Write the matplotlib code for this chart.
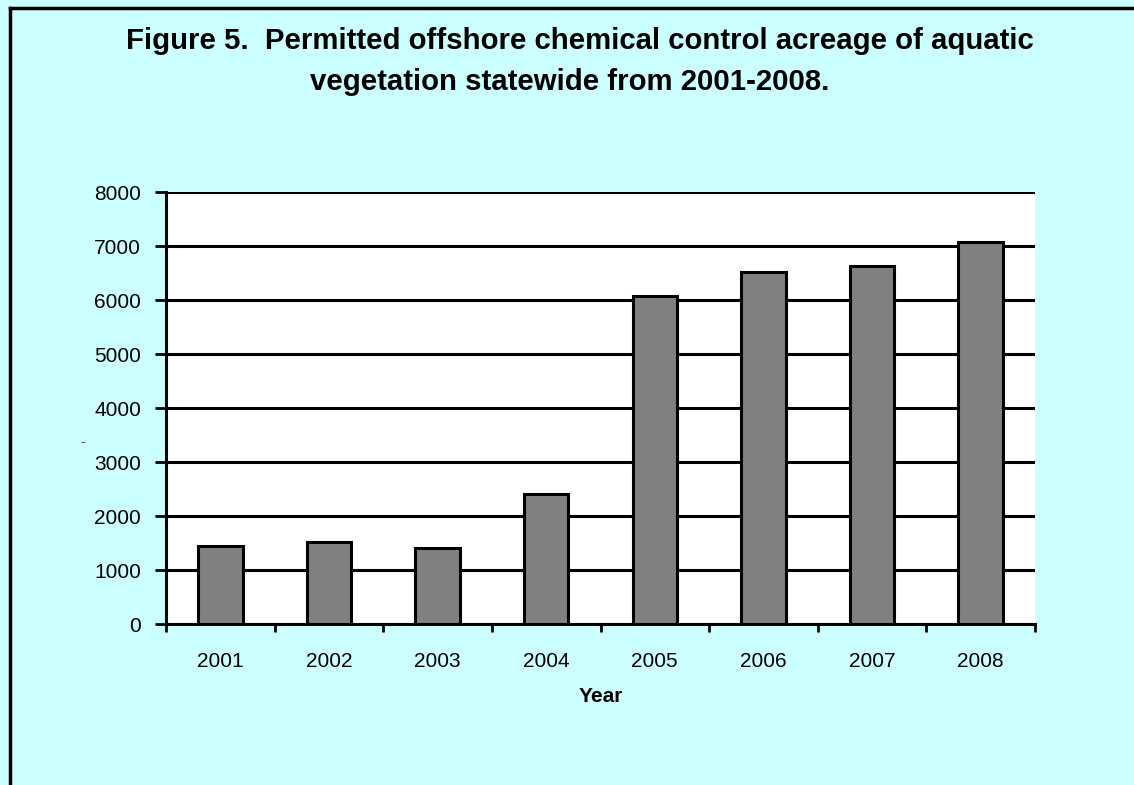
import numpy as np
import matplotlib
matplotlib.use("Agg")
import matplotlib.pyplot as plt
from matplotlib.lines import Line2D

plt.rcParams['font.family'] = ['Liberation Sans', 'DejaVu Sans']

years = ['2001', '2002', '2003', '2004', '2005', '2006', '2007', '2008']
acreage = [1450, 1513, 1407, 2401, 6074, 6518, 6624, 7068]
yticks = [0, 1000, 2000, 3000, 4000, 5000, 6000, 7000, 8000]

W, H = 1134, 785
fig = plt.figure(figsize=(W / 100, H / 100), dpi=100)
fig.patch.set_facecolor('#CCFFFF')

ax = fig.add_axes([166 / W, 1 - 624 / H, (1035 - 166) / W, (624 - 192) / H])
ax.set_facecolor('white')

x = np.arange(len(years))
ax.set_axisbelow(True)
ax.yaxis.grid(True, color='black', linewidth=2.2)
ax.bar(x, acreage, width=0.41, color='#808080', edgecolor='black', linewidth=2.2, zorder=3)

ax.set_xlim(-0.5, len(years) - 0.5)
ax.set_ylim(0, 8000)
ax.set_yticks(yticks)
ax.set_yticklabels([str(v) for v in yticks], fontsize=15)

ax.set_xticks(np.arange(-0.5, len(years), 1.0))
ax.set_xticklabels([])
ax.set_xticks(x, minor=True)
ax.set_xticklabels(years, minor=True, fontsize=15)
ax.tick_params(axis='x', which='major', direction='out', length=6, width=2, color='black')
ax.tick_params(axis='x', which='minor', length=0, pad=20)
ax.tick_params(axis='y', direction='out', length=8, width=2, pad=10, color='black')

for s in ['top', 'right']:
    ax.spines[s].set_visible(False)
for s in ['left', 'bottom']:
    ax.spines[s].set_linewidth(2.2)
    ax.spines[s].set_color('black')

ax.set_xlabel('Year', fontsize=15, fontweight='bold', labelpad=12)

fig.text(580 / W, 1 - 41 / H, 'Figure 5.  Permitted offshore chemical control acreage of aquatic',
         ha='center', va='center', fontsize=21.2, fontweight='bold')
fig.text(570 / W, 1 - 82 / H, 'vegetation statewide from 2001-2008.',
         ha='center', va='center', fontsize=21.2, fontweight='bold')

fig.text(83 / W, 1 - 442 / H, '-', ha='center', va='center', fontsize=10, color='#555555')

# outer frame lines (left and top)
fig.add_artist(Line2D([10 / W, 10 / W], [0, 1 - 8 / H], transform=fig.transFigure, color='black', linewidth=2.5))
fig.add_artist(Line2D([10 / W, 1], [1 - 8 / H, 1 - 8 / H], transform=fig.transFigure, color='black', linewidth=2.5))

fig.savefig('out.png', dpi=100, facecolor=fig.get_facecolor())
